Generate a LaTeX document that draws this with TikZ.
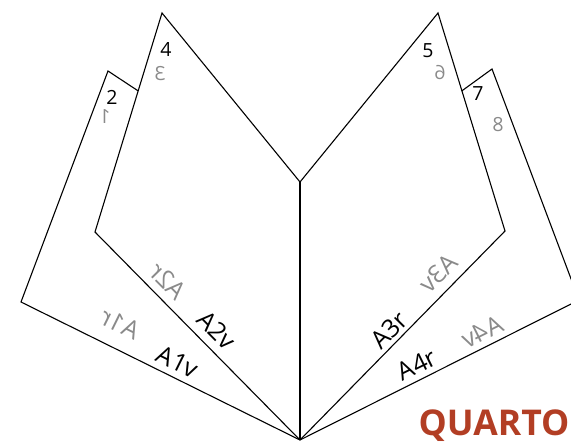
\documentclass[tikz,border=0pt]{standalone}
\usepackage{fontspec}
\setmainfont{Open Sans}
\definecolor{qgray}{RGB}{138,138,138}
\definecolor{qrust}{RGB}{178,62,36}
\begin{document}
\begin{tikzpicture}[x=1pt,y=-1pt,
  edge/.style={draw=black,line width=1.1pt,line join=miter},
  spine/.style={draw=black,line width=1.8pt},
  num/.style={font=\fontsize{19.5}{19.5}\selectfont,inner sep=0pt},
  numm/.style={num,text=qgray,xscale=-1},
  lab/.style={font=\fontsize{25}{25}\selectfont,inner sep=0pt},
  labm/.style={lab,text=qgray,xscale=-1}]
\clip (0,0) rectangle (571,444);
\coordinate (B) at (300,440);
\coordinate (S) at (300,182);
% left outer page
\coordinate (LO1) at (21,302);
\coordinate (LO2) at (108,71);
\coordinate (LJ) at (138.3,91);
% left inner page
\coordinate (LI1) at (95,232);
\coordinate (LI2) at (162,13);
% right inner page
\coordinate (RI1) at (505,231);
\coordinate (RI2) at (438,13);
% right outer page
\coordinate (RJ) at (461.7,91);
\coordinate (RO2) at (492,69);
\coordinate (RO1) at (579,300);
\draw[edge] (B) -- (LO1) -- (LO2) -- (LJ);
\draw[edge] (B) -- (LI1) -- (LI2) -- (S);
\draw[edge] (S) -- (RI2) -- (RI1) -- (B);
\draw[edge] (RJ) -- (RO2) -- (RO1) -- (B);
\draw[spine] (S) -- (B);
% page numbers
\node[num] (n4) at (166,50) {4};
\node[numm] (n3) at (160,74) {3};
\node[num] (n2) at (112,97) {2};
\node[numm] (n1) at (105,117) {1};
\node[num] (n5) at (428,51) {5};
\node[numm] (n6) at (440,73) {6};
\node[num] (n7) at (478,94) {7};
\node[numm] (n8) at (498,125) {8};
% leaf labels
\node[rotate=-26.3,labm] (a1r) at (120,324) {A1r};
\node[rotate=-26.3,lab] (a1v) at (178,362) {A1v};
\node[rotate=-45.4,labm] (a2r) at (168,281) {A2r};
\node[rotate=-45.4,lab] (a2v) at (217,330) {A2v};
\node[rotate=45.4,lab] (a3r) at (389,330) {A3r};
\node[rotate=45.4,labm] (a3v) at (438,273) {A3v};
\node[rotate=26.3,lab] (a4r) at (417,365) {A4r};
\node[rotate=26.3,labm] (a4v) at (482,332) {A4v};
\node[font=\fontsize{35.5}{35.5}\selectfont\bfseries,text=qrust,inner sep=0pt] (q) at (494,426) {QUARTO};
\end{tikzpicture}
\end{document}
